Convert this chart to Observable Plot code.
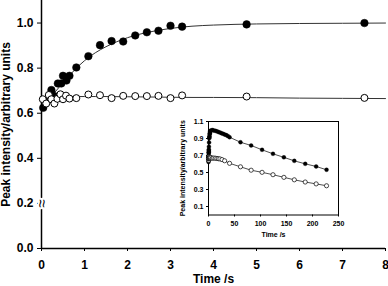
<!DOCTYPE html>
<html><head><meta charset="utf-8">
<script src="https://cdn.jsdelivr.net/npm/d3@7"></script>
<script src="https://cdn.jsdelivr.net/npm/@observablehq/plot@0.6"></script>
<style>
body{margin:0;background:#fff;}
#wrap{position:relative;width:388px;height:286px;}
#inset{position:absolute;left:175px;top:112px;}
svg{overflow:visible;}
</style></head><body><div id="wrap"><div id="main"></div><div id="inset"></div></div>
<script>
// Main chart: filled circles
const filledT = [0.04,0.13,0.23,0.30,0.38,0.46,0.50,0.58,0.65,0.81,1.09,1.36,1.63,1.90,2.18,2.45,2.72,3.00,3.27,4.77,7.51];
const filledV = [0.624,0.655,0.703,0.676,0.732,0.732,0.766,0.745,0.766,0.803,0.853,0.902,0.920,0.918,0.945,0.959,0.966,0.988,0.984,0.994,1.000];
// Main chart: open circles
const openT = [0.03,0.11,0.17,0.23,0.30,0.37,0.44,0.50,0.57,0.65,0.81,1.09,1.36,1.63,1.90,2.18,2.45,2.72,3.00,3.27,4.77,7.51];
const openV = [0.662,0.643,0.681,0.662,0.643,0.664,0.684,0.662,0.678,0.665,0.667,0.683,0.680,0.667,0.677,0.676,0.676,0.677,0.667,0.679,0.674,0.668];
// Fitted curves
const fitT = [0,0.25,0.5,0.75,1,1.25,1.5,2,2.5,3,3.5,4,5,6,7,8];
const fitFilled = [0.622,0.68,0.735,0.788,0.833,0.868,0.895,0.935,0.960,0.976,0.986,0.991,0.996,0.998,0.999,1.0];
const fitOpen = [0.656,0.668,0.673,0.674,0.674,0.674,0.674,0.673,0.672,0.671,0.670,0.670,0.669,0.667,0.666,0.665];
// Inset: later time points
const lateFilledT = [10,13,16,19,22,25,28,31,34,37,40.5,61.5,82,103,124,145,165,186,207,227];
const lateFilledV = [0.995,0.99,0.985,0.977,0.97,0.962,0.955,0.947,0.94,0.93,0.915,0.856,0.818,0.767,0.72,0.678,0.637,0.602,0.571,0.532];
const lateOpenT = [10,13,16,19,22,26,31,40.5,61.5,82,103,124,145,165,186,207,227];
const lateOpenV = [0.67,0.668,0.665,0.662,0.66,0.652,0.638,0.608,0.567,0.527,0.502,0.474,0.443,0.414,0.388,0.366,0.344];
// Ticks
const xTicks = [0,1,2,3,4,5,6,7,8];
const yTicks = [0,0.2,0.4,0.6,0.8,1.0];
const insetXTicks = [0,50,100,150,200,250];
const insetYTicks = [0.1,0.3,0.5,0.7,0.9,1.1];

const font = "'Liberation Sans', Arial, Helvetica, sans-serif";
const filled = filledT.map((t,i)=>({t, v: filledV[i]}));
const open = openT.map((t,i)=>({t, v: openV[i]}));
const fitF = fitT.map((t,i)=>({t, v: fitFilled[i]}));
const fitO = fitT.map((t,i)=>({t, v: fitOpen[i]}));
const lateF = lateFilledT.map((t,i)=>({t, v: lateFilledV[i]}));
const lateO = lateOpenT.map((t,i)=>({t, v: lateOpenV[i]}));
const f1 = d3.format(".1f");

const main = Plot.plot({
  width: 388, height: 286,
  marginLeft: 41, marginRight: 3, marginTop: 0, marginBottom: 38,
  style: {fontFamily: font, fontWeight: "bold", fontSize: "12px", background: "white", color: "black"},
  x: {domain: [0, 8]},
  y: {domain: [0, 1.1]},
  marks: [
    Plot.axisX({ticks: xTicks, tickFormat: d => String(d), tickSize: 3, tickPadding: 9, fontSize: 12,
      label: "Time /s", labelAnchor: "center", labelArrow: "none", labelOffset: 34}),
    Plot.axisY({ticks: yTicks, tickFormat: f1, tickSize: 4, tickPadding: 4, fontSize: 12,
      label: "Peak intensity/arbitrary units", labelAnchor: "center", labelArrow: "none", labelOffset: 40}),
    Plot.ruleX([0], {stroke: "black", strokeWidth: 1.5}),
    Plot.ruleY([0], {stroke: "black", strokeWidth: 1.5}),
    Plot.text([{x: 0, y: 0.2}], {x: "x", y: "y", text: () => "≈", rotate: 90, fontSize: 15, fontWeight: "normal",
      fill: "black", stroke: "white", strokeWidth: 4}),
    Plot.line(fitF, {x: "t", y: "v", curve: "monotone-x", stroke: "#333", strokeWidth: 1}),
    Plot.line(fitO, {x: "t", y: "v", curve: "monotone-x", stroke: "#333", strokeWidth: 1}),
    Plot.dot(filled, {x: "t", y: "v", r: 3.8, fill: "black", stroke: "black", strokeWidth: 0.5}),
    Plot.dot(open, {x: "t", y: "v", r: 3.5, fill: "white", stroke: "black", strokeWidth: 1})
  ]
});
document.getElementById("main").appendChild(main);

const insetLineF = fitF.concat(lateF);
const insetLineO = fitO.concat(lateO);
const inset = Plot.plot({
  width: 170, height: 130,
  marginLeft: 33, marginRight: 7, marginTop: 9, marginBottom: 27.5,
  style: {fontFamily: font, fontWeight: "bold", fontSize: "7px", background: "transparent", color: "black"},
  x: {domain: [0, 250]},
  y: {domain: [0, 1.1]},
  marks: [
    Plot.rect([0], {x1: 0, x2: 250, y1: 0, y2: 1.1, fill: "white"}),
    Plot.axisX({ticks: insetXTicks, tickFormat: d => String(d), tickSize: 2, tickPadding: 4, fontSize: 7,
      label: "Time /s", labelAnchor: "center", labelArrow: "none", labelOffset: 22}),
    Plot.axisY({ticks: insetYTicks, tickFormat: f1, tickSize: 2, tickPadding: 3, fontSize: 7,
      label: "Peak intensity/arbitrary units", labelAnchor: "center", labelArrow: "none", labelOffset: 28}),
    Plot.frame({stroke: "black", strokeWidth: 1}),
    Plot.line(insetLineF, {x: "t", y: "v", stroke: "#222", strokeWidth: 0.8}),
    Plot.line(insetLineO, {x: "t", y: "v", stroke: "#222", strokeWidth: 0.8}),
    Plot.dot(filled.concat(lateF), {x: "t", y: "v", r: 2, fill: "black", stroke: "black", strokeWidth: 0.3}),
    Plot.dot(open.concat(lateO), {x: "t", y: "v", r: 2.1, fill: "white", stroke: "black", strokeWidth: 0.7})
  ]
});
document.getElementById("inset").appendChild(inset);
</script></body></html>
